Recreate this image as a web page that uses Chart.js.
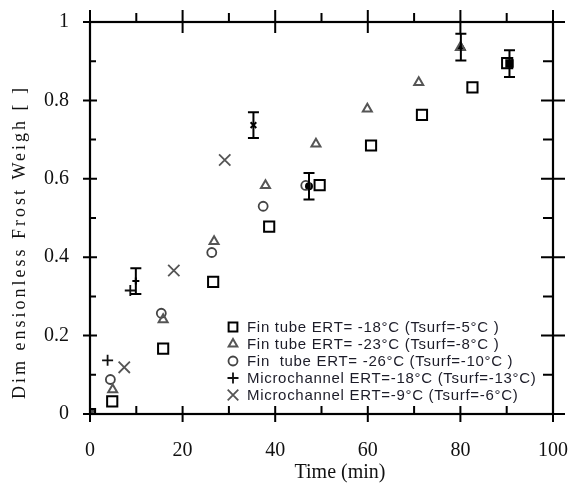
<!DOCTYPE html>
<html>
<head>
<meta charset="utf-8">
<script src="https://cdn.jsdelivr.net/npm/chart.js@4.4.1/dist/chart.umd.min.js"></script>
<style>
  html, body { margin: 0; padding: 0; background: #fff; }
</style>
</head>
<body>
<canvas id="frostChart" width="576" height="485"></canvas>
<script>
// values
const finTube18Time = [0, 4.8, 15.8, 26.6, 38.7, 49.6, 60.7, 71.7, 82.6, 90.1];
const finTube18Weight = [0, 0.032, 0.167, 0.337, 0.478, 0.584, 0.685, 0.763, 0.833, 0.895];
const finTube23Time = [0, 4.9, 15.8, 26.8, 37.9, 48.8, 59.9, 71.0, 80.0];
const finTube23Weight = [0, 0.062, 0.241, 0.440, 0.583, 0.689, 0.778, 0.846, 0.935];
const finTube26Time = [0, 4.4, 15.4, 26.3, 37.4, 46.6];
const finTube26Weight = [0, 0.088, 0.257, 0.412, 0.530, 0.583];
const micro18Time = [0, 3.8, 8.7];
const micro18Weight = [0, 0.137, 0.315];
const micro9Time = [0, 7.4, 18.1, 29.1];
const micro9Weight = [0, 0.119, 0.366, 0.648];

// averaged points with error bars
const meanTime = [9.9, 35.3, 47.3, 80.1, 90.6];
const meanWeight = [0.339, 0.737, 0.581, 0.936, 0.894];
const meanError = [0.033, 0.033, 0.034, 0.034, 0.034];

const seriesLabels = [
  'Fin tube ERT= -18°C (Tsurf=-5°C )',
  'Fin tube ERT= -23°C (Tsurf=-8°C )',
  'Fin  tube ERT= -26°C (Tsurf=-10°C )',
  'Microchannel ERT=-18°C (Tsurf=-13°C)',
  'Microchannel ERT=-9°C (Tsurf=-6°C)'
];

const xTicks = [0, 20, 40, 60, 80, 100];
const xMinor = [10, 30, 50, 70, 90];
const yTicks = [0, 0.2, 0.4, 0.6, 0.8, 1];
const yMinor = [0.1, 0.3, 0.5, 0.7, 0.9];

const toPoints = (xs, ys) => xs.map((t, i) => ({ x: t, y: ys[i] }));

const serif = "'Liberation Serif', 'Times New Roman', serif";
const sans = "'Liberation Sans', Arial, sans-serif";

// axis frame, crossing tick marks, error bars, titles and legend
const framePlugin = {
  id: 'frame',
  afterDatasetsDraw(chart) {
    const { ctx, chartArea: a, scales: { x, y } } = chart;
    ctx.save();
    ctx.strokeStyle = '#000';
    ctx.lineWidth = 2.2;
    ctx.strokeRect(a.left, a.top, a.right - a.left, a.bottom - a.top);

    ctx.lineWidth = 2;
    ctx.beginPath();
    xTicks.forEach(v => {
      const px = x.getPixelForValue(v);
      ctx.moveTo(px, a.bottom - 8); ctx.lineTo(px, a.bottom + 8);
      ctx.moveTo(px, a.top - 12); ctx.lineTo(px, a.top + 11);
    });
    xMinor.forEach(v => {
      const px = x.getPixelForValue(v);
      ctx.moveTo(px, a.bottom - 8); ctx.lineTo(px, a.bottom);
      ctx.moveTo(px, a.top - 9); ctx.lineTo(px, a.top);
    });
    yTicks.forEach(v => {
      const py = y.getPixelForValue(v);
      ctx.moveTo(a.left - 7, py); ctx.lineTo(a.left + 7, py);
      ctx.moveTo(a.right - 12, py); ctx.lineTo(a.right + 12, py);
    });
    yMinor.forEach(v => {
      const py = y.getPixelForValue(v);
      ctx.moveTo(a.left, py); ctx.lineTo(a.left + 6, py);
      ctx.moveTo(a.right - 10, py); ctx.lineTo(a.right, py);
    });
    ctx.stroke();

    // error bars
    ctx.lineWidth = 2;
    ctx.beginPath();
    meanTime.forEach((t, i) => {
      const px = x.getPixelForValue(t);
      const top = y.getPixelForValue(meanWeight[i] + meanError[i]);
      const bot = y.getPixelForValue(meanWeight[i] - meanError[i]);
      ctx.moveTo(px, top); ctx.lineTo(px, bot);
      ctx.moveTo(px - 5.5, top); ctx.lineTo(px + 5.5, top);
      ctx.moveTo(px - 5.5, bot); ctx.lineTo(px + 5.5, bot);
    });
    ctx.stroke();
    ctx.restore();
  },
  afterDraw(chart) {
    const { ctx, chartArea: a } = chart;
    ctx.save();
    ctx.fillStyle = '#111';
    ctx.textAlign = 'center';
    ctx.textBaseline = 'middle';
    ctx.font = '20px ' + serif;
    ctx.fillText('Time (min)', 340, 473);

    ctx.translate(20, 242);
    ctx.rotate(-Math.PI / 2);
    ctx.font = '18px ' + serif;
    if ('letterSpacing' in ctx) ctx.letterSpacing = '3px';
    ctx.fillText('Dim ensionless Frost Weigh [ ]', 0, 0);
    ctx.restore();

    // legend inside the plot
    ctx.save();
    const ds = chart.data.datasets;
    const lx = a.left + 143;
    const ly = [327, 344, 361, 378, 395];
    ctx.font = '15px ' + sans;
    if ('letterSpacing' in ctx) ctx.letterSpacing = '0.7px';
    ctx.textAlign = 'left';
    ctx.textBaseline = 'middle';
    for (let i = 0; i < 5; i++) {
      const d = ds[i];
      ctx.strokeStyle = d.borderColor;
      ctx.fillStyle = 'rgba(0,0,0,0)';
      ctx.lineWidth = d.borderWidth;
      Chart.helpers.drawPoint(ctx, {
        pointStyle: d.pointStyle,
        radius: d.legendRadius,
        rotation: 0,
        borderWidth: d.borderWidth
      }, lx, ly[i]);
      ctx.fillStyle = '#1c1c28';
      ctx.fillText(d.label, lx + 14, ly[i] + 1);
    }
    ctx.restore();
  }
};

const ctx = document.getElementById('frostChart').getContext('2d');

const datasets = [
  {
    label: seriesLabels[0],
    data: toPoints(finTube18Time, finTube18Weight),
    pointStyle: 'rect', pointRadius: 7.2, legendRadius: 6.2,
    borderColor: '#000', backgroundColor: 'rgba(0,0,0,0)', borderWidth: 2
  },
  {
    label: seriesLabels[1],
    data: toPoints(finTube23Time, finTube23Weight),
    pointStyle: 'triangle', pointRadius: 5.2, legendRadius: 5,
    borderColor: '#555', backgroundColor: 'rgba(0,0,0,0)', borderWidth: 2
  },
  {
    label: seriesLabels[2],
    data: toPoints(finTube26Time, finTube26Weight),
    pointStyle: 'circle', pointRadius: 4.5, legendRadius: 4.5,
    borderColor: '#444', backgroundColor: 'rgba(0,0,0,0)', borderWidth: 1.8
  },
  {
    label: seriesLabels[3],
    data: toPoints(micro18Time, micro18Weight),
    pointStyle: 'cross', pointRadius: 5.5, legendRadius: 5.5,
    borderColor: '#111', backgroundColor: 'rgba(0,0,0,0)', borderWidth: 1.8
  },
  {
    label: seriesLabels[4],
    data: toPoints(micro9Time, micro9Weight),
    pointStyle: 'crossRot', pointRadius: 8, legendRadius: 7.5,
    borderColor: '#555', backgroundColor: 'rgba(0,0,0,0)', borderWidth: 1.8
  },
  {
    label: 'Mean',
    data: toPoints(meanTime, meanWeight),
    pointStyle: ['cross', 'crossRot', 'circle', 'triangle', 'rect'],
    pointRadius: [3.5, 4, 3, 4, 4.5],
    borderColor: '#000', backgroundColor: '#000', borderWidth: 2
  }
];

const noPad = s => { s.paddingTop = 0; s.paddingBottom = 0; s.paddingLeft = 0; s.paddingRight = 0; };

const config = {
  type: 'scatter',
  data: { datasets: datasets },
  options: {
    responsive: false,
    animation: false,
    layout: { padding: { top: 22, right: 23, left: 0, bottom: 0 } },
    scales: {
      x: {
        type: 'linear',
        min: 0,
        max: 100,
        afterBuildTicks: s => { s.ticks = xTicks.map(v => ({ value: v })); },
        afterFit: s => { s.height = 71; noPad(s); },
        grid: { display: false, drawTicks: false },
        border: { display: false },
        ticks: {
          padding: 25,
          color: '#111',
          font: { size: 20, family: serif },
          callback: v => String(v)
        }
      },
      y: {
        type: 'linear',
        min: 0,
        max: 1,
        afterBuildTicks: s => { s.ticks = yTicks.map(v => ({ value: v })); },
        afterFit: s => { s.width = 90; noPad(s); },
        grid: { display: false, drawTicks: false },
        border: { display: false },
        ticks: {
          padding: 21,
          color: '#111',
          font: { size: 20, family: serif },
          callback: v => String(v)
        }
      }
    },
    plugins: {
      legend: { display: false },
      tooltip: { enabled: false }
    }
  },
  plugins: [framePlugin]
};

const frostChart = new Chart(ctx, config);
</script>
</body>
</html>
